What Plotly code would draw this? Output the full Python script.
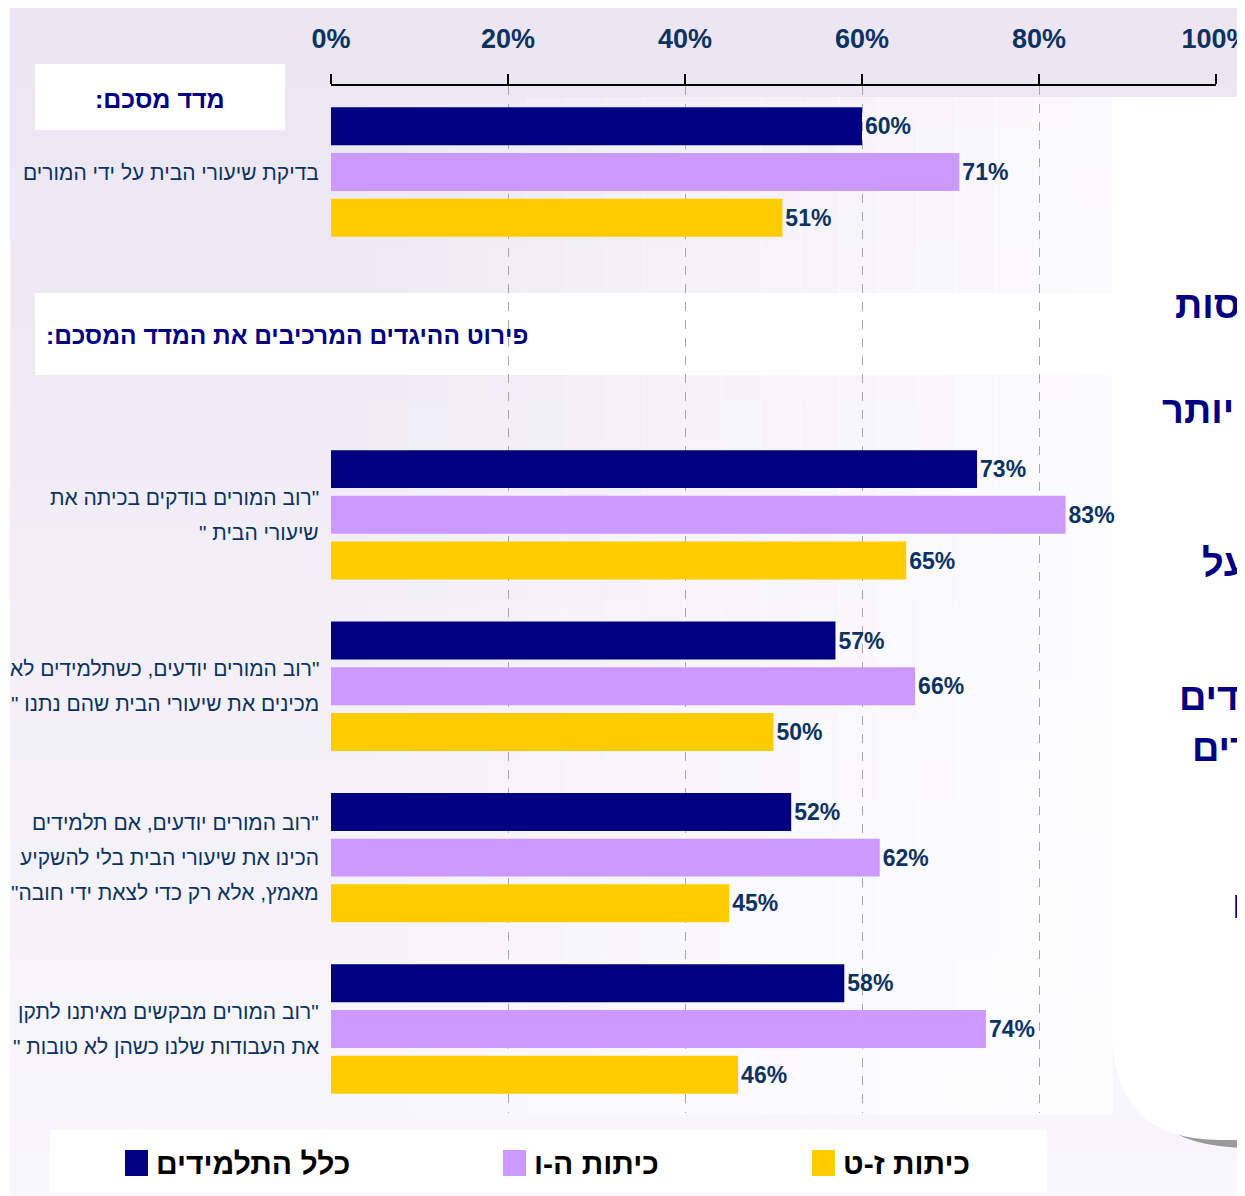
import plotly.graph_objects as go

# --- data ---
categories = [
    ["בדיקת שיעורי הבית על ידי המורים"],
    ["\"רוב המורים בודקים בכיתה את", "שיעורי הבית \""],
    ["\"רוב המורים יודעים, כשתלמידים לא", "מכינים את שיעורי הבית שהם נתנו \""],
    ["\"רוב המורים יודעים, אם תלמידים", "הכינו את שיעורי הבית בלי להשקיע", "מאמץ, אלא רק כדי לצאת ידי חובה\""],
    ["\"רוב המורים מבקשים מאיתנו לתקן", "את העבודות שלנו כשהן לא טובות \""],
]
cat_pos = [0, 2, 3, 4, 5]

series_names = ["כלל התלמידים", "כיתות ה-ו", "כיתות ז-ט"]
all_students = [60, 73, 57, 52, 58]
grades_5_6 = [71, 83, 66, 62, 74]
grades_7_9 = [51, 65, 50, 45, 46]
series_values = [all_students, grades_5_6, grades_7_9]

tick_vals = [0, 20, 40, 60, 80, 100]
tick_text = ["0%", "20%", "40%", "60%", "80%", "100%"]

header_summary = "מדד מסכם:"
header_details = "פירוט ההיגדים המרכיבים את המדד המסכם:"
side_fragments = ["סות", "יותר", "י", "על", "דים", "רים", "ן", "ם"]

# --- style ---
COLORS = ["#000080", "#CC99FF", "#FFCC00"]
TEXT_BLUE = "#0B3260"
NAVY = "#000080"
RLM = "\u200f"
OFF = 8                      # page body margin
W, H = 1245, 1196            # window size
L, R, T, B = 331, 1216, 86, 1113   # plot area in window pixels
FW, FH = W - OFF, H - OFF


def fx(px):
    return (px - L) / (R - L)


def fy(py):
    return (B - py) / (B - T)


def rtl(s):
    return RLM + s + RLM


fig = go.Figure()
for name, vals, col in zip(series_names, series_values, COLORS):
    fig.add_trace(go.Bar(
        x=vals, y=cat_pos, orientation="h", name=name,
        marker=dict(color=col, line=dict(width=0)),
        text=[f"{v}%" for v in vals], textposition="outside",
        textfont=dict(family="Liberation Sans", size=23, color=TEXT_BLUE, weight="bold"),
        cliponaxis=False, showlegend=False,
    ))

shapes = []
# background: vertical gradient
top_c, bot_c = (235, 230, 242), (248, 247, 251)
n = 30
for i in range(n):
    t = i / (n - 1)
    c = tuple(int(round(a + (b - a) * t)) for a, b in zip(top_c, bot_c))
    y0 = 7 + (H - 7) * i / n
    y1 = 7 + (H - 7) * (i + 1) / n + 1
    shapes.append(dict(type="rect", xref="paper", yref="paper", layer="below",
                       x0=fx(10), x1=fx(W + 5), y0=fy(y1), y1=fy(y0),
                       fillcolor="rgb(%d,%d,%d)" % c, line=dict(width=0)))
# horizontal whitening toward the right
m = 20
for i in range(m):
    x0 = 331 + (1112 - 331) * i / m
    x1 = 331 + (1112 - 331) * (i + 1) / m + 1
    shapes.append(dict(type="rect", xref="paper", yref="paper", layer="below",
                       x0=fx(x0), x1=fx(x1), y0=fy(1115), y1=fy(97),
                       fillcolor="rgba(255,255,255,%.3f)" % (0.75 * (i + 1) / m), line=dict(width=0)))

# header boxes
shapes.append(dict(type="rect", xref="paper", yref="paper", layer="below",
                   x0=fx(35), x1=fx(285), y0=fy(130), y1=fy(64), fillcolor="white", line=dict(width=0)))
shapes.append(dict(type="rect", xref="paper", yref="paper", layer="between",
                   x0=fx(35), x1=fx(1115), y0=fy(375), y1=fy(293), fillcolor="white", line=dict(width=0)))

# right-hand panel with shadow
shadow = "M %f,%f Q %f,%f %f,%f L %f,%f Q %f,%f %f,%f Z" % (
    fx(1148), fy(1110), fx(1175), fy(1148), fx(1250), fy(1148),
    fx(1250), fy(1136), fx(1185), fy(1136), fx(1160), fy(1110))
shapes.append(dict(type="path", xref="paper", yref="paper", layer="between", path=shadow,
                   fillcolor="#9A9A9A", line=dict(width=0)))
panel = "M %f,%f L %f,%f L %f,%f L %f,%f Q %f,%f %f,%f Z" % (
    fx(1112), fy(97), fx(1250), fy(97), fx(1250), fy(1140), fx(1220), fy(1140),
    fx(1112), fy(1140), fx(1112), fy(1030))
shapes.append(dict(type="path", xref="paper", yref="paper", layer="between", path=panel,
                   fillcolor="white", line=dict(width=0)))

# legend box
shapes.append(dict(type="rect", xref="paper", yref="paper", layer="above",
                   x0=fx(50), x1=fx(1047), y0=fy(1192), y1=fy(1130), fillcolor="white", line=dict(width=0)))

annotations = []
legend_x = [125, 503, 812]
for name, col, lx in zip(series_names, COLORS, legend_x):
    shapes.append(dict(type="rect", xref="paper", yref="paper", layer="above",
                       x0=fx(lx), x1=fx(lx + 23), y0=fy(1176), y1=fy(1150), fillcolor=col, line=dict(width=0)))
    annotations.append(dict(text=rtl(name), xref="paper", yref="paper", x=fx(lx + 29), y=fy(1163),
                            xanchor="left", yanchor="middle", showarrow=False,
                            font=dict(family="Liberation Sans", size=30, color="black", weight="bold")))

# category labels
LINE = 35
for lines, pos in zip(categories, cat_pos):
    k = len(lines)
    for j, ln in enumerate(lines):
        annotations.append(dict(text=rtl(ln), xref="paper", yref="y", x=fx(321), y=pos,
                                yshift=-(j - (k - 1) / 2) * LINE,
                                xanchor="right", yanchor="middle", showarrow=False,
                                font=dict(family="Liberation Sans, Arial", size=21, color=TEXT_BLUE)))

# headers
annotations.append(dict(text=rtl(header_summary), xref="paper", yref="paper", x=fx(160), y=fy(99),
                        xanchor="center", yanchor="middle", showarrow=False,
                        font=dict(family="Liberation Sans, Arial", size=25, color=NAVY, weight="bold")))
annotations.append(dict(text=rtl(header_details), xref="paper", yref="paper", x=fx(44), y=fy(335),
                        xanchor="left", yanchor="middle", showarrow=False,
                        font=dict(family="Liberation Sans, Arial", size=24.5, color=NAVY, weight="bold")))

# fragments of the overlapping slide text on the right
frag_xy = [(1173, 305), (1160, 410), (1234, 508), (1200, 563), (1177, 697), (1190, 748), (1236, 858), (1230, 905)]
for txt, (px, py) in zip(side_fragments, frag_xy):
    annotations.append(dict(text=txt, xref="paper", yref="paper", x=fx(px), y=fy(py),
                            xanchor="left", yanchor="middle", showarrow=False,
                            font=dict(family="Liberation Sans, Arial", size=38, color=NAVY, weight="bold")))

fig.update_layout(
    width=FW, height=FH,
    margin=dict(l=L - OFF, r=FW - (R - OFF), t=T - OFF, b=FH - (B - OFF), pad=0, autoexpand=False),
    paper_bgcolor="white", plot_bgcolor="rgba(0,0,0,0)",
    barmode="group", bargap=0.2, bargroupgap=0.17,
    shapes=shapes, annotations=annotations, showlegend=False,
    xaxis=dict(
        range=[0, 100], side="top", tickvals=tick_vals, ticktext=tick_text,
        ticks="outside", ticklen=10, tickwidth=1.5, tickcolor="black",
        showline=True, linecolor="black", linewidth=1.5,
        showgrid=True, gridcolor="#A6A6A6", gridwidth=1.3, griddash="dash",
        zeroline=False, ticklabelstandoff=15, ticklabeloverflow="allow", automargin=False,
        tickfont=dict(family="Liberation Sans", size=27, color=TEXT_BLUE, weight="bold"),
    ),
    yaxis=dict(range=[5.49, -0.502], showticklabels=False, showgrid=False, zeroline=False,
               showline=False, automargin=False),
)

fig.write_html("out.html")
